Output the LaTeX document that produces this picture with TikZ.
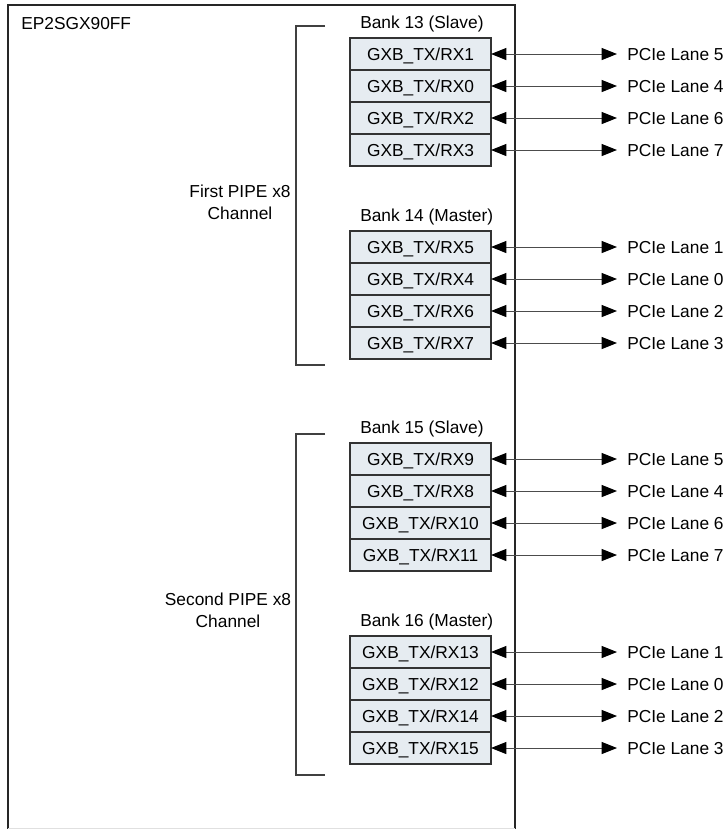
\documentclass[tikz,border=0pt]{standalone}
\usepackage{fontspec}
\setmainfont{Liberation Sans}
\usetikzlibrary{arrows.meta,positioning}
\definecolor{cellfill}{HTML}{E6ECF1}
\definecolor{edge}{HTML}{333333}

\begin{document}
\begin{tikzpicture}[x=0.75pt,y=-0.75pt,
 font=\fontsize{13}{16.5}\selectfont,
 cell/.style={draw=edge,fill=cellfill,line width=0.8pt,minimum width=105.75pt,
   minimum height=24pt,inner sep=0pt,outer sep=0pt,text height=9.3pt,text depth=0pt},
 banktitle/.style={inner sep=0pt,text height=9.3pt,text depth=0pt,anchor=west},
 lane/.style={banktitle},
 pipelabel/.style={align=center,inner sep=0pt},
 link/.style={{Triangle[length=11.5pt,width=9pt,color=black]}-{Triangle[length=11.5pt,width=9pt,color=black]},
   draw=black!70,line width=0.75pt,shorten >=7.5pt},
 pipebracket/.style={draw=black!75,line width=0.8pt}
]
\useasboundingbox (0,0) rectangle (723,829);
\draw[line width=0.8pt,draw=black!85] (8,829) |- (515,5) -- (515,829);
\draw[black!12,line width=0.75pt] (8,828.5) -- (515,828.5);
\node[banktitle] (device) at (21,23.5) {EP2SGX90FF};
% first PIPE x8 channel
\draw[pipebracket] (325,26) -| (296,365) -- (325,365);
\node[pipelabel] (pipe1) at (240,202) {First PIPE x8\\Channel};
\node[banktitle] (bank13) at (360,22) {Bank 13 (Slave)};
\node[cell] (rx1) at (420.5,54) {GXB\_TX/RX1};
\node[cell,below=0pt of rx1] (rx0) {GXB\_TX/RX0};
\node[cell,below=0pt of rx0] (rx2) {GXB\_TX/RX2};
\node[cell,below=0pt of rx2] (rx3) {GXB\_TX/RX3};
\node[banktitle] (bank14) at (360,215) {Bank 14 (Master)};
\node[cell] (rx5) at (420.5,247) {GXB\_TX/RX5};
\node[cell,below=0pt of rx5] (rx4) {GXB\_TX/RX4};
\node[cell,below=0pt of rx4] (rx6) {GXB\_TX/RX6};
\node[cell,below=0pt of rx6] (rx7) {GXB\_TX/RX7};
% second PIPE x8 channel
\draw[pipebracket] (325,434) -| (296,775) -- (325,775);
\node[pipelabel] (pipe2) at (228,610.5) {Second PIPE x8\\Channel};
\node[banktitle] (bank15) at (360,427) {Bank 15 (Slave)};
\node[cell] (rx9) at (420.5,459) {GXB\_TX/RX9};
\node[cell,below=0pt of rx9] (rx8) {GXB\_TX/RX8};
\node[cell,below=0pt of rx8] (rx10) {GXB\_TX/RX10};
\node[cell,below=0pt of rx10] (rx11) {GXB\_TX/RX11};
\node[banktitle] (bank16) at (360,620) {Bank 16 (Master)};
\node[cell] (rx13) at (420.5,652) {GXB\_TX/RX13};
\node[cell,below=0pt of rx13] (rx12) {GXB\_TX/RX12};
\node[cell,below=0pt of rx12] (rx14) {GXB\_TX/RX14};
\node[cell,below=0pt of rx14] (rx15) {GXB\_TX/RX15};
% PCIe lanes
\node[lane,right=102pt of rx1] (rx1pcie) {PCIe Lane 5};
\node[lane,right=102pt of rx0] (rx0pcie) {PCIe Lane 4};
\node[lane,right=102pt of rx2] (rx2pcie) {PCIe Lane 6};
\node[lane,right=102pt of rx3] (rx3pcie) {PCIe Lane 7};
\node[lane,right=102pt of rx5] (rx5pcie) {PCIe Lane 1};
\node[lane,right=102pt of rx4] (rx4pcie) {PCIe Lane 0};
\node[lane,right=102pt of rx6] (rx6pcie) {PCIe Lane 2};
\node[lane,right=102pt of rx7] (rx7pcie) {PCIe Lane 3};
\node[lane,right=102pt of rx9] (rx9pcie) {PCIe Lane 5};
\node[lane,right=102pt of rx8] (rx8pcie) {PCIe Lane 4};
\node[lane,right=102pt of rx10] (rx10pcie) {PCIe Lane 6};
\node[lane,right=102pt of rx11] (rx11pcie) {PCIe Lane 7};
\node[lane,right=102pt of rx13] (rx13pcie) {PCIe Lane 1};
\node[lane,right=102pt of rx12] (rx12pcie) {PCIe Lane 0};
\node[lane,right=102pt of rx14] (rx14pcie) {PCIe Lane 2};
\node[lane,right=102pt of rx15] (rx15pcie) {PCIe Lane 3};
\draw[link] (rx1) -- (rx1pcie);
\draw[link] (rx0) -- (rx0pcie);
\draw[link] (rx2) -- (rx2pcie);
\draw[link] (rx3) -- (rx3pcie);
\draw[link] (rx5) -- (rx5pcie);
\draw[link] (rx4) -- (rx4pcie);
\draw[link] (rx6) -- (rx6pcie);
\draw[link] (rx7) -- (rx7pcie);
\draw[link] (rx9) -- (rx9pcie);
\draw[link] (rx8) -- (rx8pcie);
\draw[link] (rx10) -- (rx10pcie);
\draw[link] (rx11) -- (rx11pcie);
\draw[link] (rx13) -- (rx13pcie);
\draw[link] (rx12) -- (rx12pcie);
\draw[link] (rx14) -- (rx14pcie);
\draw[link] (rx15) -- (rx15pcie);
\end{tikzpicture}
\end{document}
